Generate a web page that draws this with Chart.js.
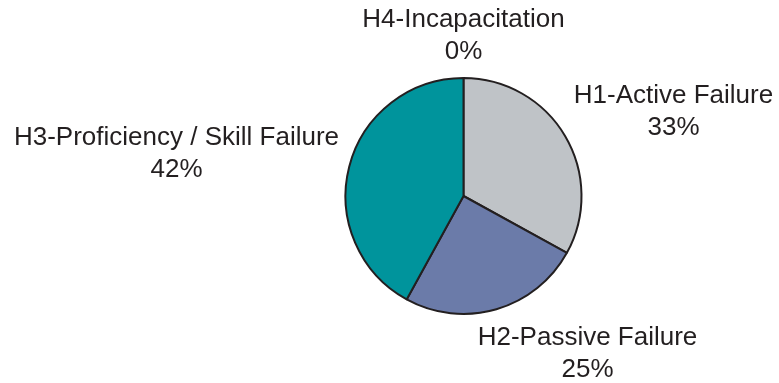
<!DOCTYPE html>
<html>
<head>
<meta charset="utf-8">
<script src="https://cdn.jsdelivr.net/npm/chart.js@4"></script>
<style>
  html, body { margin: 0; padding: 0; background: #ffffff; }
  #wrap { width: 779px; height: 383px; position: relative; }
</style>
</head>
<body>
<div id="wrap"><canvas id="chart-factors" width="779" height="383"></canvas></div>
<script>
// Human factor categories and their share (%)
const CATEGORIES = ['H1-Active Failure', 'H2-Passive Failure', 'H3-Proficiency / Skill Failure', 'H4-Incapacitation'];
const SHARES = [33, 25, 42, 0];

const SLICE_COLORS = ['#bfc3c7', '#6b7ba9', '#00949c', '#d7dbe0'];
const OUTLINE = '#231f20';

// Where each two-line label sits relative to the pie centre (dx, first baseline dy)
const LABEL_OFFSETS = [
  [210, -93],
  [124, 149],
  [-287, -51],
  [0, -169]
];

// Draws the category name with its percentage underneath
const outsideLabels = {
  id: 'outsideLabels',
  afterDatasetsDraw(chart, args, opts) {
    const ctx = chart.ctx;
    const arc = chart.getDatasetMeta(0).data[0];
    if (!arc) return;
    const cx = arc.x, cy = arc.y;
    ctx.save();
    ctx.font = opts.font;
    ctx.fillStyle = opts.color;
    ctx.textAlign = 'center';
    ctx.textBaseline = 'alphabetic';
    chart.data.labels.forEach((label, i) => {
      const [dx, dy] = opts.offsets[i];
      const value = chart.data.datasets[0].data[i];
      ctx.fillText(label, cx + dx, cy + dy);
      ctx.fillText(`${value}%`, cx + dx, cy + dy + opts.lineHeight);
    });
    ctx.restore();
  }
};

const ctx = document.getElementById('chart-factors').getContext('2d');

new Chart(ctx, {
  type: 'pie',
  data: {
    labels: CATEGORIES,
    datasets: [{
      data: SHARES,
      backgroundColor: SLICE_COLORS,
      borderColor: OUTLINE,
      borderWidth: 2,
      borderAlign: 'center'
    }]
  },
  options: {
    responsive: false,
    animation: false,
    layout: {
      padding: { top: 77, bottom: 68, left: 344, right: 196 }
    },
    plugins: {
      legend: { display: false },
      tooltip: { enabled: false },
      outsideLabels: {
        font: "26px 'Liberation Sans', Arial, sans-serif",
        color: '#231f20',
        lineHeight: 32,
        offsets: LABEL_OFFSETS
      }
    }
  },
  plugins: [outsideLabels]
});
</script>
</body>
</html>
